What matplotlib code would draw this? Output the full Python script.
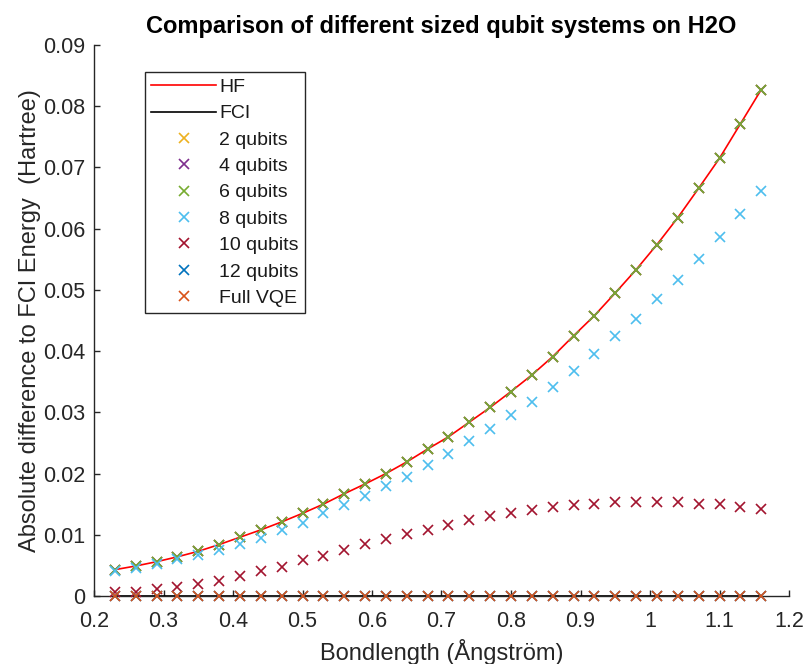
import matplotlib
matplotlib.use("Agg")
import matplotlib.pyplot as plt

plt.rcParams["font.family"] = ["Liberation Sans", "DejaVu Sans"]

# Bond lengths (Angstrom)
bond_length = [0.23, 0.26, 0.29, 0.32, 0.35, 0.38, 0.41, 0.44, 0.47, 0.50,
               0.53, 0.56, 0.59, 0.62, 0.65, 0.68, 0.71, 0.74, 0.77, 0.80,
               0.83, 0.86, 0.89, 0.92, 0.95, 0.98, 1.01, 1.04, 1.07, 1.10,
               1.13, 1.16]

# Absolute energy difference to FCI (Hartree)
hf = [0.0043, 0.0049, 0.0056, 0.0064, 0.0073, 0.0084, 0.0096, 0.0108, 0.0121, 0.0135,
      0.0150, 0.0167, 0.0183, 0.0200, 0.0219, 0.0240, 0.0260, 0.0284, 0.0308, 0.0334,
      0.0361, 0.0391, 0.0425, 0.0458, 0.0495, 0.0533, 0.0574, 0.0618, 0.0666, 0.0715,
      0.0771, 0.0827]
fci = [0.0] * 32
qubits_2 = hf
qubits_4 = hf
qubits_6 = hf
qubits_8 = [0.0041, 0.0045, 0.0053, 0.0060, 0.0067, 0.0075, 0.0085, 0.0095, 0.0108, 0.0120,
            0.0135, 0.0149, 0.0163, 0.0179, 0.0195, 0.0214, 0.0232, 0.0253, 0.0273, 0.0295,
            0.0317, 0.0342, 0.0367, 0.0395, 0.0424, 0.0453, 0.0485, 0.0516, 0.0550, 0.0587,
            0.0624, 0.0661]
qubits_10 = [0.0006, 0.0007, 0.0011, 0.0015, 0.0020, 0.0025, 0.0033, 0.0041, 0.0048, 0.0059,
             0.0066, 0.0075, 0.0085, 0.0093, 0.0101, 0.0108, 0.0116, 0.0124, 0.0130, 0.0135,
             0.0140, 0.0145, 0.0149, 0.0151, 0.0153, 0.0154, 0.0154, 0.0153, 0.0151, 0.0151,
             0.0145, 0.0142]
qubits_12 = [0.0] * 32
full_vqe = [0.0] * 32

x_ticks = [0.2, 0.3, 0.4, 0.5, 0.6, 0.7, 0.8, 0.9, 1.0, 1.1, 1.2]
x_tick_labels = ["0.2", "0.3", "0.4", "0.5", "0.6", "0.7", "0.8", "0.9", "1", "1.1", "1.2"]
y_ticks = [0, 0.01, 0.02, 0.03, 0.04, 0.05, 0.06, 0.07, 0.08, 0.09]
y_tick_labels = ["0", "0.01", "0.02", "0.03", "0.04", "0.05", "0.06", "0.07", "0.08", "0.09"]

marker_series = [
    ("2 qubits", qubits_2, "#EDB120"),
    ("4 qubits", qubits_4, "#7E2F8E"),
    ("6 qubits", qubits_6, "#77AC30"),
    ("8 qubits", qubits_8, "#4DBEEE"),
    ("10 qubits", qubits_10, "#A2142F"),
    ("12 qubits", qubits_12, "#0072BD"),
    ("Full VQE", full_vqe, "#D95319"),
]

axis_color = "#262626"
tick_fs = 15.5
label_fs = 17
legend_fs = 14

fig = plt.figure(figsize=(8.08, 6.64), dpi=100)
ax = fig.add_axes([94 / 808, 68 / 664, 695 / 808, 551 / 664])

ax.plot(bond_length, hf, color="red", lw=1.2, label="HF", zorder=3)
ax.plot(bond_length, fci, color="black", lw=1.2, label="FCI", zorder=3)
for name, vals, col in marker_series:
    ax.plot(bond_length, vals, ls="none", marker="x", ms=6.5, mew=1.2,
            color=col, label=name, clip_on=False, zorder=4)

ax.set_xlim(0.2, 1.2)
ax.set_ylim(0, 0.09)
ax.set_xticks(x_ticks, x_tick_labels)
ax.set_yticks(y_ticks, y_tick_labels)

for side in ("top", "right"):
    ax.spines[side].set_visible(False)
for side in ("left", "bottom"):
    ax.spines[side].set_color(axis_color)
    ax.spines[side].set_linewidth(1.0)

ax.tick_params(direction="in", length=4.5, width=1.0, colors=axis_color,
               labelsize=tick_fs, labelcolor=axis_color)
ax.tick_params(axis="x", pad=11)
ax.tick_params(axis="y", pad=6)

ax.set_title("Comparison of different sized qubit systems on H2O",
             fontsize=label_fs, fontweight="bold", color="black", pad=8.5)
ax.set_xlabel("Bondlength (Ångström)", fontsize=label_fs, color=axis_color, labelpad=5)
ax.set_ylabel("Absolute difference to FCI Energy  (Hartree)", fontsize=label_fs,
              color=axis_color, labelpad=1.5)

leg = ax.legend(loc="upper left", bbox_to_anchor=(0.0734, 0.951), fontsize=legend_fs,
                frameon=True, fancybox=False, framealpha=1, edgecolor=axis_color,
                handlelength=3.3, handletextpad=0.18, labelspacing=0.45,
                borderpad=0.33, borderaxespad=0)
leg.get_frame().set_linewidth(1.0)
for t in leg.get_texts():
    t.set_color("#1a1a1a")

fig.savefig("out.png", dpi=100)
